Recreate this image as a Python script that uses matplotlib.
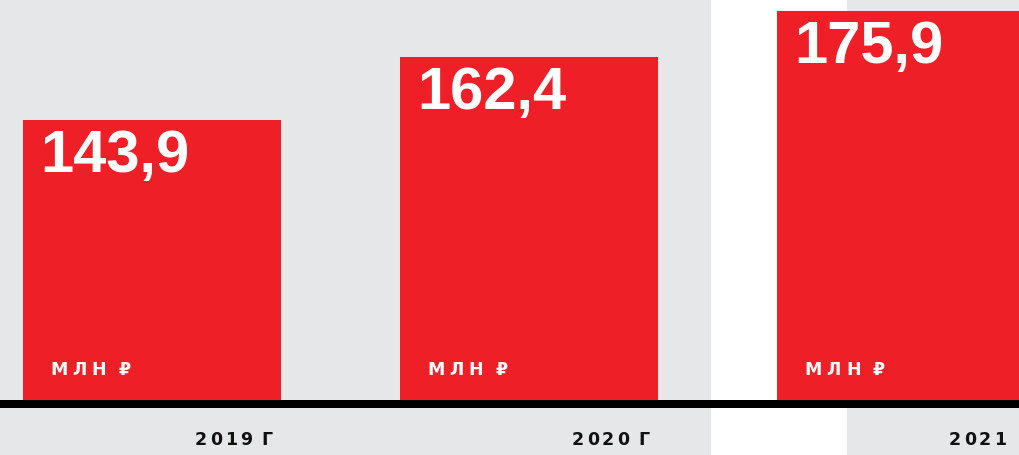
import matplotlib
matplotlib.use('Agg')
import matplotlib.pyplot as plt
from matplotlib.patches import Rectangle
from matplotlib.transforms import IdentityTransform

# Data
years = ['2019 Г', '2020 Г', '2021']
values = [143.9, 162.4, 175.9]
value_labels = ['143,9', '162,4', '175,9']
unit = 'МЛН ₽'

RED = '#ee1f26'
GRAY = '#e6e7e9'
BIG_FONT = ['Liberation Sans', 'DejaVu Sans']
SMALL_FONT = ['DejaVu Sans']

fig = plt.figure(figsize=(10.2, 4.55), dpi=100, facecolor=GRAY)
# white strip behind the last bar
fig.add_artist(Rectangle((711 / 1020, 0), 136 / 1020, 1, transform=fig.transFigure,
                         facecolor='white', edgecolor='none', zorder=0))

ax = fig.add_axes([0, 55 / 455, 1, 400 / 455])
ax.patch.set_visible(False)
ax.set_axis_off()

x = list(range(len(values)))
bar_w = 0.684
ax.bar(x, values, width=bar_w, color=RED, zorder=2)
ax.set_xlim(-0.403, 2.302)
ax.set_ylim(61.55, 179.2)

# thick black baseline
fig.add_artist(Rectangle((0, 47 / 455), 1, 8 / 455, transform=fig.transFigure,
                         facecolor='black', edgecolor='none', zorder=3))

renderer = fig.canvas.get_renderer()


def text_width(s, size):
    t = fig.text(0, 0, s, fontsize=size, fontweight='bold', family=SMALL_FONT,
                 transform=IdentityTransform())
    w = t.get_window_extent(renderer).width
    t.remove()
    return w


def spaced_text(px, py, s, gap, word_gap, size, color):
    # text with extra letter spacing, px/py in pixels (left, baseline)
    ref = text_width('x', size)
    compact = s.replace(' ', '')
    spaces = 0
    j = 0
    for ch in s:
        if ch == ' ':
            spaces += 1
            continue
        off = (text_width(compact[:j] + 'x', size) - ref if j else 0) + j * gap + spaces * word_gap
        fig.text(px + off, py, ch, fontsize=size, fontweight='bold', family=SMALL_FONT,
                 color=color, va='baseline', ha='left', transform=IdentityTransform(), zorder=5)
        j += 1


ybot = ax.get_ylim()[0]
for xi, v, lab, yr in zip(x, values, value_labels, years):
    left = xi - bar_w / 2
    lx, ty = ax.transData.transform((left, v))
    _, by = ax.transData.transform((left, ybot))
    cx, _ = ax.transData.transform((xi, v))
    fig.text(lx + 17, ty - 52, lab, fontsize=43, fontweight='bold', family=BIG_FONT,
             color='white', va='baseline', ha='left', transform=IdentityTransform(), zorder=5)
    spaced_text(lx + 27, by + 25, unit, 5, 7, 12.5, 'white')
    spaced_text(cx + 43, 10, yr, 2.8, 7, 12.5, '#111111')

fig.savefig('out.png', dpi=100, facecolor=GRAY)
